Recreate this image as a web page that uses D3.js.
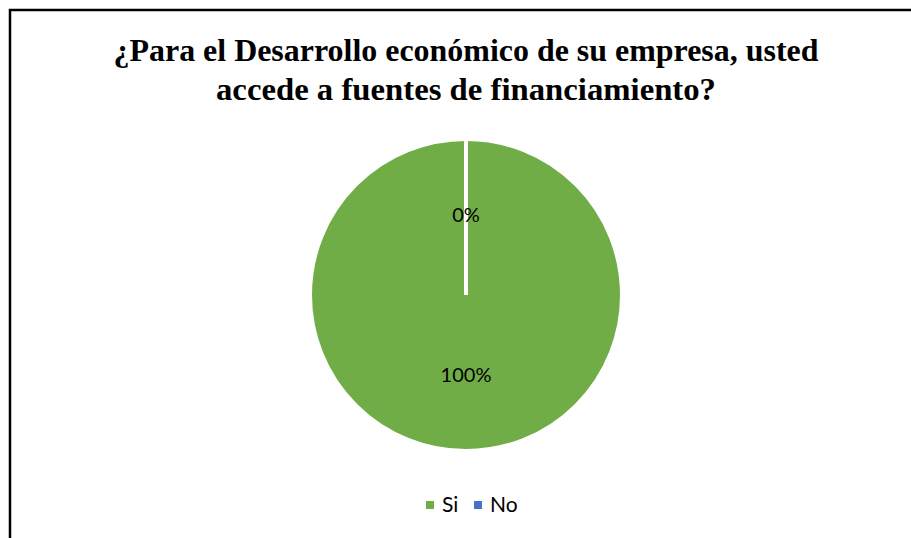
<!DOCTYPE html>
<html><head><meta charset="utf-8">
<script src="https://cdn.jsdelivr.net/npm/d3@7"></script>
<style>html,body{margin:0;padding:0;background:#fff;}</style>
</head><body>
<svg id="chart" width="911" height="538"></svg>
<script>
const titleLines = ["¿Para el Desarrollo económico de su empresa, usted", "accede a fuentes de financiamiento?"];
const categories = ["Si", "No"];
const values = [100, 0];
const colors = ["#70AD47", "#4472C4"];

const svg = d3.select("#chart");
// border
svg.append("path").attr("d", "M10,538 L10,10 L911,10").attr("fill", "none").attr("stroke", "#000").attr("stroke-width", 2.5);

const titleWidths = [705, 500];
svg.append("text").attr("x", 466).attr("y", 61).attr("text-anchor", "middle")
  .attr("font-family", "Liberation Serif, Times New Roman, serif").attr("font-weight", "bold").attr("font-size", 31)
  .selectAll("tspan").data(titleLines).join("tspan")
  .attr("x", 466).attr("dy", (d, i) => i === 0 ? 0 : 39)
  .attr("textLength", (d, i) => titleWidths[i]).attr("lengthAdjust", "spacingAndGlyphs")
  .text(d => d);

const cx = 466, cy = 295, r = 156;
const data = categories.map((c, i) => ({cat: c, val: values[i], col: colors[i]}));
const pie = d3.pie().value(d => d.val).sort(null);
const arcs = pie(data);
const arc = d3.arc().innerRadius(0).outerRadius(r);
const g = svg.append("g").attr("transform", `translate(${cx},${cy})`);
g.selectAll("path.s").data(arcs).join("path").attr("class", "s")
  .attr("d", arc).attr("fill", d => d.data.col).attr("stroke", "#fff").attr("stroke-width", 4).attr("stroke-linejoin", "miter");

// labels
const total = d3.sum(values);
const labelArc = d3.arc().innerRadius(r * 0.51).outerRadius(r * 0.51);
g.selectAll("text.l").data(arcs).join("text").attr("class", "l")
  .attr("transform", d => {
    const [x, y] = labelArc.centroid(d);
    return `translate(${x},${y})`;
  })
  .attr("text-anchor", "middle").attr("dy", "0.35em")
  .attr("font-family", "Lato, Open Sans, sans-serif").attr("font-size", 20).attr("fill", "#000")
  .text(d => Math.round(d.data.val / total * 100) + "%");

// legend
const legend = svg.append("g").attr("font-family", "Lato, Open Sans, sans-serif").attr("font-size", 21);
const lx = [426, 474];
categories.forEach((c, i) => {
  legend.append("rect").attr("x", lx[i]).attr("y", 501).attr("width", 8).attr("height", 8).attr("fill", colors[i]);
  legend.append("text").attr("x", lx[i] + 16).attr("y", 512).text(c);
});
</script>
</body></html>
